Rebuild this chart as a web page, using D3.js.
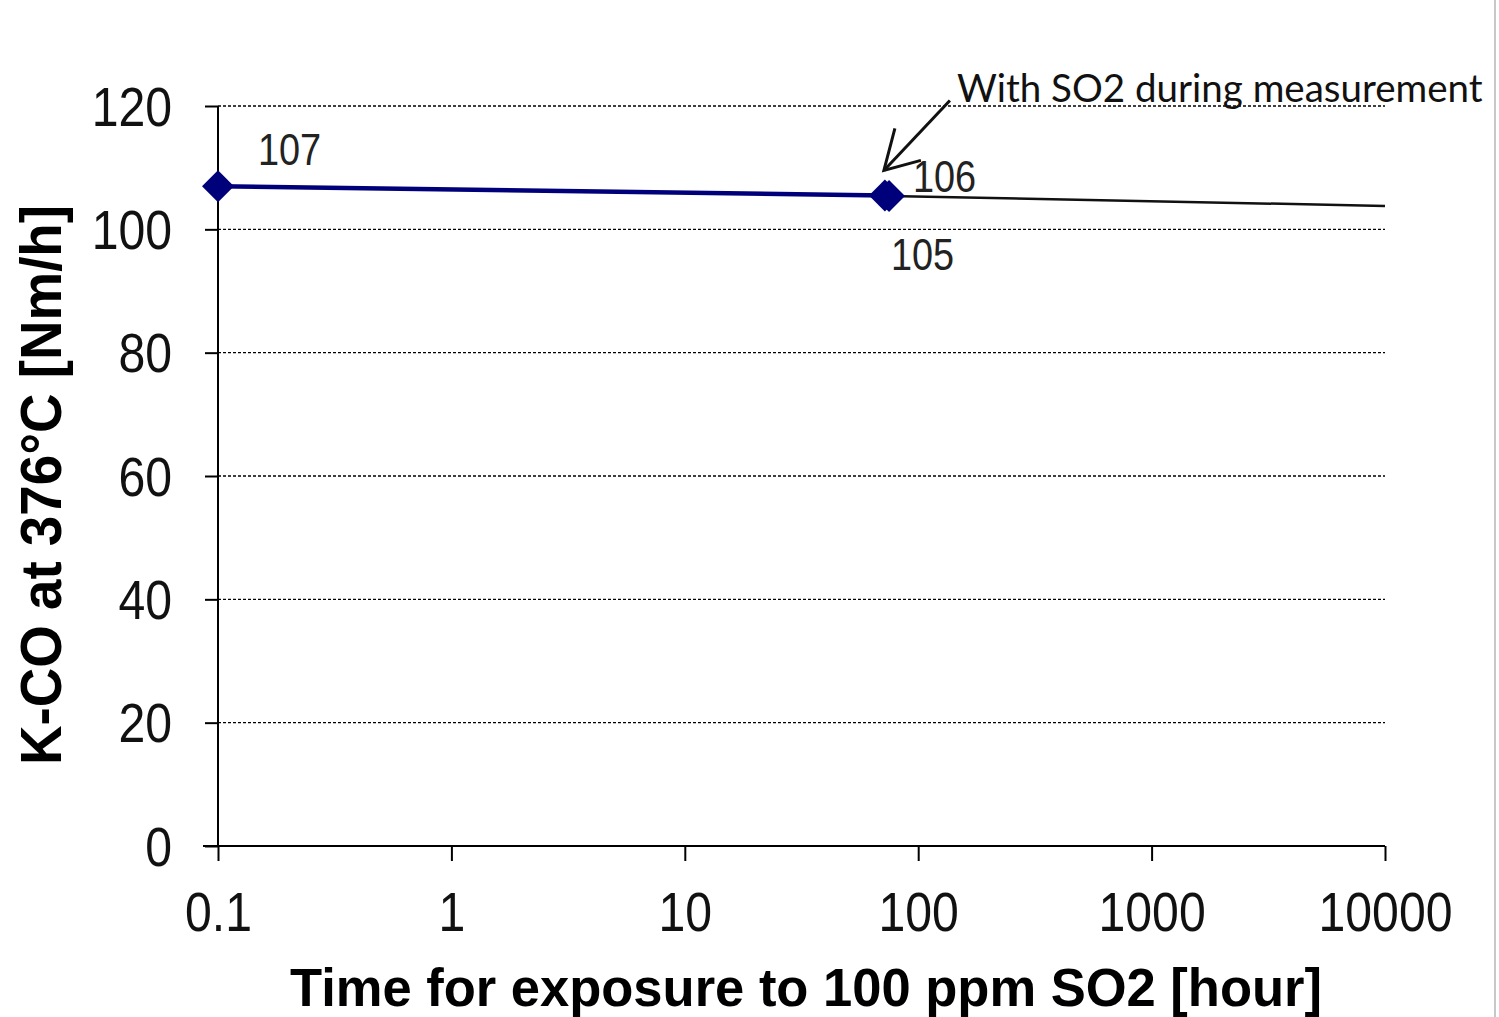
<!DOCTYPE html>
<html lang="en">
  <head>
    <meta charset="UTF-8" />
    <title>K-CO vs SO2 exposure</title>
    <script src="https://d3js.org/d3.v7.min.js"></script>
    <style>
      body { margin: 0; background: #fff; }
    </style>
  </head>
  <body></body>
  <script>
    // measured points (hours, Nm/h)
    var times = [0.1, 72, 75];
    var kco = [107, 105.5, 105.4];
    var pointLabels = ["107", "106", "105"];
    // thin black continuation line
    var trendTimes = [75, 10000];
    var trendValues = [105.4, 103.8];
    // axis ticks
    var xTicks = [0.1, 1, 10, 100, 1000, 10000];
    var xTickLabels = ["0.1", "1", "10", "100", "1000", "10000"];
    var yTicks = [0, 20, 40, 60, 80, 100, 120];

    var W = 1499, H = 1017;
    var margin = { top: 106, left: 218, right: 114, bottom: 171 };
    var width = W - margin.left - margin.right,
      height = H - margin.top - margin.bottom;
    var squeeze = 0.86; // the original image is a bit narrower than it is tall

    var svg = d3.select("body").append("svg")
      .attr("width", W).attr("height", H);

    var g = svg.append("g")
      .attr("transform", "translate(" + margin.left + "," + margin.top + ")");

    var x = d3.scaleLog().domain([0.1, 10000]).range([0, width]);
    var y = d3.scaleLinear().domain([0, 120]).range([height, 0]);

    function narrow(sel, k) {
      sel.each(function () {
        var w = this.getComputedTextLength();
        d3.select(this).attr("textLength", w * k).attr("lengthAdjust", "spacingAndGlyphs");
      });
    }

    // grid
    g.append("g").selectAll("line")
      .data(yTicks.filter(d => d > 0))
      .join("line")
      .attr("x1", 0).attr("x2", width)
      .attr("y1", d => y(d)).attr("y2", d => y(d))
      .attr("stroke", "#000").attr("stroke-width", 1.4)
      .attr("stroke-dasharray", "3,2");

    // y axis
    var yAxis = g.append("g")
      .call(d3.axisLeft(y).tickValues(yTicks).tickSize(13).tickFormat(d3.format("d")));
    yAxis.select(".domain").attr("stroke", "#000").attr("stroke-width", 2).attr("d", "M0," + height + "V0");
    yAxis.selectAll(".tick line").attr("stroke", "#000").attr("stroke-width", 2);
    yAxis.selectAll(".tick text")
      .attr("x", -46).attr("dy", "0.34em")
      .attr("font-family", "Liberation Sans, Arial, sans-serif")
      .attr("font-size", 56).attr("fill", "#111")
      .call(narrow, squeeze);

    // x axis
    var xAxis = g.append("g")
      .attr("transform", "translate(0," + height + ")")
      .call(d3.axisBottom(x).tickValues(xTicks).tickSize(15)
        .tickFormat((d, i) => xTickLabels[i]));
    xAxis.select(".domain").attr("stroke", "#000").attr("stroke-width", 2).attr("d", "M-15,0H" + width);
    xAxis.selectAll(".tick line").attr("stroke", "#000").attr("stroke-width", 2);
    xAxis.selectAll(".tick text")
      .attr("y", 85).attr("dy", 0)
      .attr("font-family", "Liberation Sans, Arial, sans-serif")
      .attr("font-size", 56).attr("fill", "#111")
      .call(narrow, squeeze);

    // continuation line
    var line = d3.line().x(d => x(d[0])).y(d => y(d[1]));
    g.append("path")
      .datum(d3.zip(trendTimes, trendValues))
      .attr("fill", "none").attr("stroke", "#111").attr("stroke-width", 2.5)
      .attr("d", line);

    // measured series
    var pts = d3.zip(times, kco);
    g.append("path")
      .datum(pts)
      .attr("fill", "none").attr("stroke", "#00007a").attr("stroke-width", 4.5)
      .attr("d", line);

    g.selectAll(".pt")
      .data(pts)
      .join("path")
      .attr("class", "pt")
      .attr("transform", d => "translate(" + x(d[0]) + "," + y(d[1]) + ")")
      .attr("d", d3.symbol(d3.symbolDiamond2, 650))
      .attr("fill", "#00007a");

    // value labels
    var labelOffsets = [[40, -21], [28, -3], [2, 74]];
    g.selectAll(".lbl")
      .data(pts)
      .join("text")
      .attr("class", "lbl")
      .attr("x", (d, i) => x(d[0]) + labelOffsets[i][0])
      .attr("y", (d, i) => y(d[1]) + labelOffsets[i][1])
      .attr("font-family", "Liberation Sans, Arial, sans-serif")
      .attr("font-size", 44).attr("fill", "#222")
      .text((d, i) => pointLabels[i])
      .call(narrow, squeeze);

    // annotation arrow
    var tip = [x(times[1]) - 1, y(kco[1]) - 25];
    var tail = [tip[0] + 66, tip[1] - 70];
    var ann = g.append("g").attr("stroke", "#111").attr("stroke-width", 3).attr("fill", "none");
    ann.append("line").attr("x1", tail[0]).attr("y1", tail[1]).attr("x2", tip[0]).attr("y2", tip[1]);
    ann.append("path")
      .attr("d", "M" + (tip[0] + 11) + "," + (tip[1] - 42) + "L" + tip[0] + "," + tip[1] + "L" + (tip[0] + 37) + "," + (tip[1] - 10));
    var note = g.append("text")
      .attr("x", tail[0] + 7).attr("y", tail[1] + 2)
      .attr("font-family", "Lato, Open Sans, sans-serif")
      .attr("font-size", 42).attr("fill", "#111")
      .text("With SO2 during measurement");
    // fit the note to the width it has in the original
    var noteW = note.node().getComputedTextLength();
    note.attr("font-size", Math.min(44, 42 * 526 / noteW));

    // axis titles
    svg.append("text")
      .attr("x", 806).attr("y", 1006)
      .attr("text-anchor", "middle")
      .attr("font-family", "Liberation Sans, Arial, sans-serif")
      .attr("font-weight", "bold").attr("font-size", 53).attr("fill", "#000")
      .attr("textLength", 1032).attr("lengthAdjust", "spacingAndGlyphs")
      .text("Time for exposure to 100 ppm SO2 [hour]");

    svg.append("text")
      .attr("transform", "translate(61,485) rotate(-90)")
      .attr("text-anchor", "middle")
      .attr("font-family", "Liberation Sans, Arial, sans-serif")
      .attr("font-weight", "bold").attr("font-size", 58).attr("fill", "#000")
      .attr("textLength", 560).attr("lengthAdjust", "spacingAndGlyphs")
      .text("K-CO at 376°C [Nm/h]");

    // right edge of the original picture
    svg.append("line")
      .attr("x1", 1495).attr("x2", 1495).attr("y1", 0).attr("y2", H)
      .attr("stroke", "#c8c8c8").attr("stroke-width", 2);
  </script>
</html>
